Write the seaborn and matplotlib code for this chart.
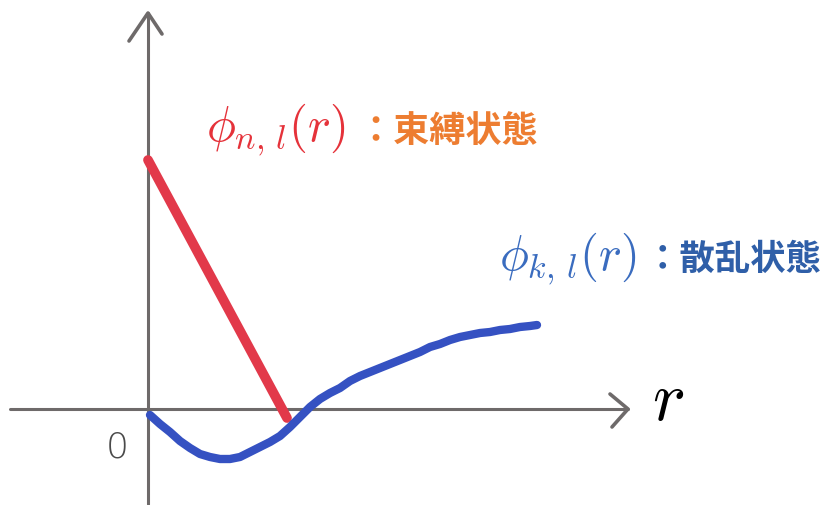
import matplotlib
matplotlib.use("Agg")
import matplotlib.pyplot as plt
import seaborn as sns
import pandas as pd

# Bound state: straight falling stroke from the vertical axis to the r axis
bound_r = [0.0, 1.39]
bound_phi = [2.50, -0.08]

# Scattering state: dips below zero, then rises slowly
scatter_r = [0.02, 0.12, 0.22, 0.32, 0.42, 0.52, 0.62, 0.72, 0.82, 0.92,
             1.02, 1.12, 1.22, 1.32, 1.42, 1.52, 1.62, 1.72, 1.82, 1.92,
             2.02, 2.12, 2.22, 2.32, 2.42, 2.52, 2.62, 2.72, 2.82, 2.92,
             3.02, 3.12, 3.22, 3.32, 3.42, 3.52, 3.62, 3.72, 3.82, 3.89]
scatter_phi = [-0.05, -0.14, -0.22, -0.31, -0.38, -0.44, -0.47, -0.49, -0.49, -0.47,
               -0.42, -0.37, -0.32, -0.26, -0.17, -0.07, 0.03, 0.11, 0.17, 0.22,
               0.29, 0.34, 0.38, 0.42, 0.46, 0.50, 0.54, 0.58, 0.63, 0.66,
               0.70, 0.73, 0.75, 0.77, 0.78, 0.80, 0.81, 0.83, 0.84, 0.85]

bound_label = r"$\phi_{n,\,l}(r)$"
bound_name = "：束縛状態"
scatter_label = r"$\phi_{k,\,l}(r)$"
scatter_name = "：散乱状態"
origin_label = "0"
axis_label = r"$r$"

sns.set_theme(style="white")
plt.rcParams["font.family"] = ["Noto Sans CJK JP", "DejaVu Sans"]
plt.rcParams["mathtext.fontset"] = "cm"

fig = plt.figure(figsize=(8.34, 5.06), dpi=100)
ax = fig.add_axes([0, 0, 1, 1])
ax.set_xlim(-1.48, 6.86)
ax.set_ylim(-0.95, 4.11)
ax.set_axis_off()

axis_col = "#6e6a6a"
# r axis with open arrowhead
ax.plot([-1.38, 4.80], [0.01, 0.01], color=axis_col, lw=2.2, solid_capstyle="round", zorder=1)
ax.plot([4.62, 4.80, 4.64], [0.16, 0.01, -0.17], color=axis_col, lw=2.6,
        solid_capstyle="round", solid_joinstyle="round", zorder=1)
# vertical axis with open arrowhead
ax.plot([0.0, 0.0], [-0.94, 3.97], color=axis_col, lw=2.2, solid_capstyle="round", zorder=1)
ax.plot([-0.19, 0.0, 0.14], [3.69, 3.97, 3.76], color=axis_col, lw=2.6,
        solid_capstyle="round", solid_joinstyle="round", zorder=1)

bound_df = pd.DataFrame({"r": bound_r, "phi": bound_phi})
scatter_df = pd.DataFrame({"r": scatter_r, "phi": scatter_phi})

sns.lineplot(data=bound_df, x="r", y="phi", ax=ax, color="#e2394a", lw=7,
             solid_capstyle="round", sort=False, zorder=3)
sns.lineplot(data=scatter_df, x="r", y="phi", ax=ax, color="#3551c2", lw=6,
             solid_capstyle="round", solid_joinstyle="round", sort=False, zorder=4)

# labels
ax.text(0.58, 2.81, bound_label, color="#e5323a", fontsize=35, va="center", ha="left")
ax.text(2.09, 2.80, bound_name, color="#ed7d31", fontsize=26, fontweight="bold",
        va="center", ha="left")
ax.text(3.51, 1.52, scatter_label, color="#3a6cbf", fontsize=35, va="center", ha="left")
ax.text(4.97, 1.52, scatter_name, color="#2f5fa8", fontsize=25.5, fontweight="bold",
        va="center", ha="left")
ax.text(-0.31, -0.37, origin_label, color="#4a4a4a", fontsize=26, va="center", ha="center",
        family=["DejaVu Sans"], fontweight="light")
ax.text(5.2, 0.11, axis_label, color="black", fontsize=50, va="center", ha="center")

fig.savefig("out.png", dpi=100, facecolor="white")
